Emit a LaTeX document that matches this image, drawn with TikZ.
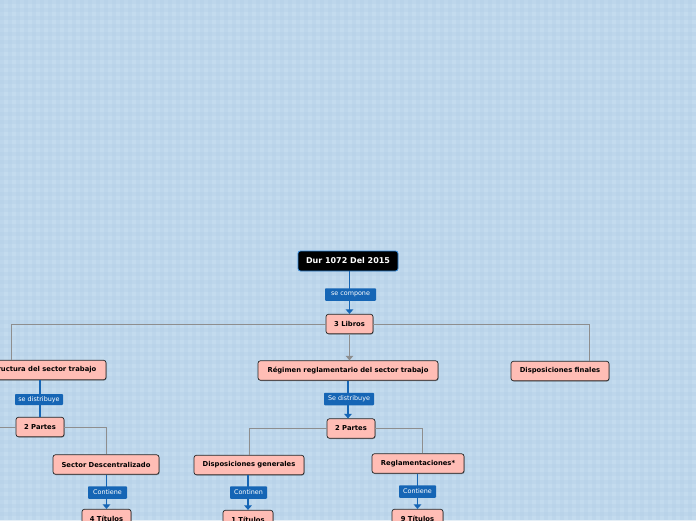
\documentclass[tikz,border=0pt]{standalone}
\usepackage{fontspec}
\setmainfont{DejaVu Sans}
\usetikzlibrary{arrows.meta,shadows,calc}
\definecolor{bgc}{HTML}{C3DBEE}
\definecolor{bgd}{HTML}{B2CEE6}
\definecolor{nodefill}{HTML}{FFBDB5}
\definecolor{lblue}{HTML}{1565B5}
\definecolor{gline}{HTML}{8E8E8E}
\definecolor{rootborder}{HTML}{2F86D8}
\begin{document}
\begin{tikzpicture}[x=1pt,y=-1pt,
  topic/.style={draw=black!85, fill=nodefill, rounded corners=2.5pt, line width=0.7pt,
    font=\bfseries\fontsize{6.8}{7}\selectfont, inner sep=0pt, minimum height=19.5pt,
    drop shadow={shadow xshift=0.6pt, shadow yshift=-0.8pt, opacity=0.35, fill=black}},
  rootnode/.style={fill=black, draw=rootborder, text=white, rounded corners=2.5pt, line width=0.8pt,
    font=\bfseries\fontsize{8}{9}\selectfont, inner sep=0pt, minimum height=20pt, minimum width=100pt},
  lbl/.style={fill=lblue, text=white, font=\fontsize{6.4}{7}\selectfont, inner sep=0pt,
    minimum height=12.5pt, rounded corners=0.8pt},
  bl/.style={draw=lblue, line width=1.1pt, -{Triangle[width=7.5pt,length=4.5pt]}},
  blplain/.style={draw=lblue, line width=1.1pt},
  gr/.style={draw=gline, line width=0.9pt},
  grarrow/.style={draw=gline, line width=0.9pt, -{Triangle[width=7.5pt,length=4.5pt]}}
]
\clip (0,0) rectangle (696,520);
\fill[bgc] (0,0) rectangle (696,520);
\foreach \i in {0,8,...,696} \fill[bgd, opacity=0.35] (\i,0) rectangle (\i+3.5,520);
\foreach \j in {0,8,...,520} \fill[bgd, opacity=0.35] (0,\j) rectangle (696,\j+3.5);

% nodes
\node[rootnode] (root) at (348,261) {Dur 1072 Del 2015};
\node[topic, minimum width=47pt] (libros) at (349.5,324) {3 Libros};
\node[topic, minimum width=130pt] (estr) at (41,370) {Estructura del sector trabajo};
\node[topic, minimum width=180pt] (regimen) at (348,370.5) {Régimen reglamentario del sector trabajo};
\node[topic, minimum width=98pt] (finales) at (560,371) {Disposiciones finales};
\node[topic, minimum width=48pt] (partes1) at (40,427) {2 Partes};
\node[topic, minimum width=48pt] (partes2) at (351,428.5) {2 Partes};
\node[topic, minimum width=106pt] (sector) at (106,464.5) {Sector Descentralizado};
\node[topic, minimum width=110pt] (dgen) at (249,465) {Disposiciones generales};
\node[topic, minimum width=92pt] (regl) at (418,463.5) {Reglamentaciones*};
\node[topic, minimum width=49pt] (t4) at (106.5,519) {4 Títulos};
\node[topic, minimum width=50pt] (t1) at (248,520) {1 Títulos};
\node[topic, minimum width=51pt] (t9) at (417.5,519) {9 Títulos};
\coordinate (offl) at (-20,427);

% connectors
\draw[bl] (libros.north |- root.south) -- (libros.north);
\draw[gr] (libros.west) -| ($(estr.north)+(-30,0)$);
\draw[grarrow] (libros.south) -- (libros.south |- regimen.north);
\draw[gr] (libros.east) -| ($(finales.north)+(29,0)$);
\draw[blplain] (partes1.north |- estr.south) -- (partes1.north);
\draw[gr] (partes1.west) -- (offl);
\draw[gr] (partes1.east) -| (sector.north);
\draw[bl] (t4.north |- sector.south) -- (t4.north);
\draw[bl] (regimen.south) -- (regimen.south |- partes2.north);
\draw[gr] (partes2.west) -| (dgen.north);
\draw[gr] (partes2.east) -| ($(regl.north)+(4,0)$);
\draw[bl] (t1.north |- dgen.south) -- (t1.north);
\draw[bl] (t9.north |- regl.south) -- (t9.north);

% labels
\node[lbl, minimum width=51pt] (lcomp) at (350.5,294.5) {se compone};
\node[lbl, minimum width=48pt, minimum height=11pt] (ldist1) at (39,399.5) {se distribuye};
\node[lbl, minimum width=50pt] (ldist2) at (349,399) {Se distribuye};
\node[lbl, minimum width=39pt] (lcont1) at (107.5,492.5) {Contiene};
\node[lbl, minimum width=37pt] (lconti) at (248.5,492.5) {Continen};
\node[lbl, minimum width=37pt] (lcont2) at (417.5,491.5) {Contiene};
\end{tikzpicture}
\end{document}
